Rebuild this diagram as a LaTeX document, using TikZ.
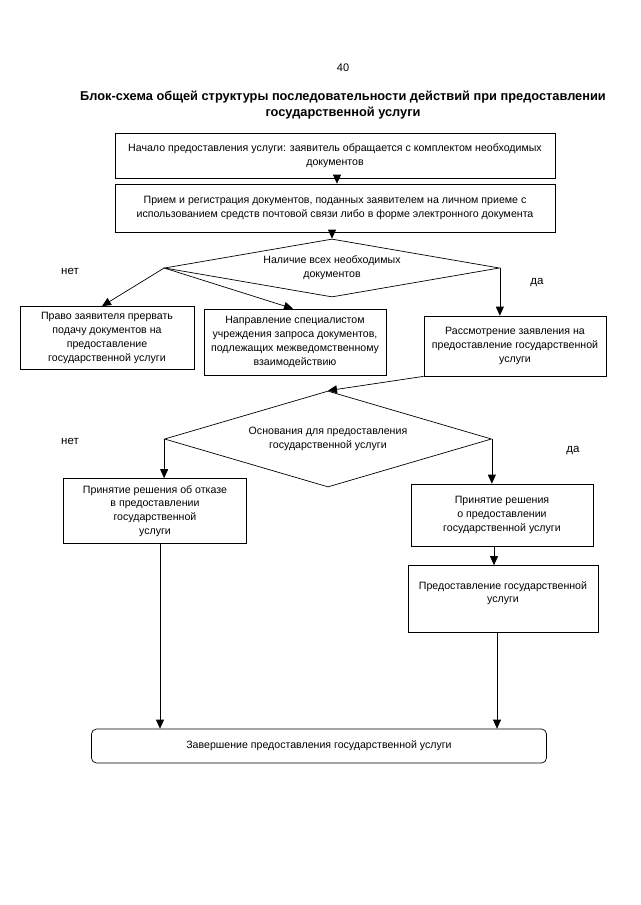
\documentclass[tikz,border=0pt]{standalone}
\usepackage{fontspec}
\setmainfont{Liberation Sans}
\usetikzlibrary{shapes.geometric,arrows.meta}

\begin{document}
\begin{tikzpicture}[x=1pt,y=-1pt,>={Triangle[width=8pt,length=9pt]},line width=0.7pt,
    box/.style={rectangle,draw,align=center,inner sep=2pt,font=\fontsize{10.6}{13.8}\selectfont},
    decision/.style={diamond,draw,align=center,inner sep=0pt,font=\fontsize{10.6}{13.8}\selectfont},
    answer/.style={font=\fontsize{11.5}{12}\selectfont}]

            \useasboundingbox (0,0) rectangle (640,905);

            \node (page) at (343,68) {\fontsize{11}{12}\selectfont 40};
            \node[align=center,font=\bfseries\fontsize{12.8}{16}\selectfont] (title) at (343,105)
                {Блок-схема общей структуры последовательности действий при предоставлении\\государственной услуги};

            \node[box,minimum width=440pt,minimum height=45pt] (b1) at (335,156)
                {Начало предоставления услуги: заявитель обращается с комплектом необходимых\\документов};
            \node[box,minimum width=440pt,minimum height=48pt] (b2) at (335,208)
                {Прием и регистрация документов, поданных заявителем на личном приеме с\\использованием средств почтовой связи либо в форме электронного документа};
            \node[decision,shape aspect=5.8,minimum width=335pt,minimum height=58pt] (d1) at (332,268)
                {Наличие всех необходимых\\документов};
            \node[answer] (no1) at (70,271) {нет};
            \node[answer] (yes1) at (537,283) {да};

            \node[box,minimum width=174pt,minimum height=63pt] (b3) at (107,338)
                {Право заявителя прервать\\подачу документов на\\предоставление\\государственной услуги};
            \node[box,minimum width=182pt,minimum height=66pt] (b4) at (295,342)
                {Направление специалистом\\учреждения запроса документов,\\подлежащих межведомственному\\взаимодействию};
            \node[box,minimum width=182pt,minimum height=60pt] (b5) at (515,346)
                {Рассмотрение заявления на\\предоставление государственной\\услуги};

            \node[decision,shape aspect=3.4,minimum width=327pt,minimum height=96pt] (d2) at (328,439)
                {Основания для предоставления\\государственной услуги};
            \node[answer] (no2) at (70,441) {нет};
            \node[answer] (yes2) at (573,451) {да};

            \node[box,minimum width=183pt,minimum height=65pt] (b6) at (155,511)
                {Принятие решения об отказе\\в предоставлении\\государственной\\услуги};
            \node[box,minimum width=182pt,minimum height=62pt] (b7) at (502,515)
                {Принятие решения\\о предоставлении\\государственной услуги};
            \node[box,minimum width=190pt,minimum height=67pt] (b8) at (503,599)
                {Предоставление государственной\\услуги\\~};
            \node[box,rounded corners=5pt,minimum width=455pt,minimum height=34pt] (b9) at (319,746)
                {Завершение предоставления государственной услуги};

            \draw[->] ([xshift=2pt]b1.south) to ([xshift=2pt]b2.north);
            \draw[->] (b2.south -| d1.north) to (d1.north);
            \draw[->] (d1.west) to ([xshift=-5pt]b3.north);
            \draw[->] (d1.west) to ([xshift=-2pt]b4.north);
            \draw[->] (d1.east) to (d1.east |- b5.north);
            \draw[->] (b5.south west) to (d2.north);
            \draw[->] (d2.west) to (d2.west |- b6.north);
            \draw[->] (d2.east) to (d2.east |- b7.north);
            \draw[->] ([xshift=-8pt]b7.south) to ([xshift=-8pt]b7.south |- b8.north);
            \draw[->] ([xshift=-6pt]b8.south) to ([xshift=-6pt]b8.south |- b9.north);
            \draw[->] ([xshift=5pt]b6.south) to ([xshift=5pt]b6.south |- b9.north);

        \end{tikzpicture}
\end{document}
